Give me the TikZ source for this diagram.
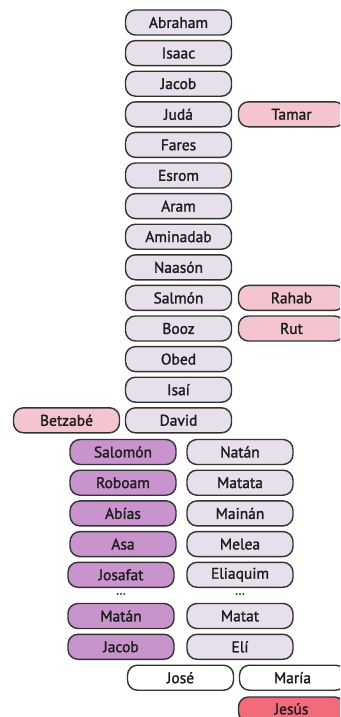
\documentclass[tikz,border=0pt]{standalone}
\usepackage{fontspec}
\setmainfont{PT Sans}[FakeBold=1.6]
\definecolor{lav}{HTML}{E7DFEC}
\definecolor{pinkf}{HTML}{F5C5CF}
\definecolor{purp}{HTML}{C993CD}
\definecolor{redf}{HTML}{F26B7B}
\definecolor{edge}{HTML}{333333}
\definecolor{txt}{HTML}{1E1E1E}
\tikzset{
  pbox/.style={draw=edge, line width=1.4pt, rounded corners=10pt, minimum width=106pt, minimum height=25pt, inner sep=0pt, text=txt, font=\fontsize{15.5}{17}\selectfont},
  mainp/.style={pbox, fill=lav},
  wife/.style={pbox, fill=pinkf},
  king/.style={pbox, fill=purp},
  plain/.style={pbox, fill=white},
  jesus/.style={pbox, fill=redf},
  dotsn/.style={text=txt, font=\fontsize{12}{14}\selectfont, inner sep=0pt}
}
\begin{document}
\begin{tikzpicture}[x=1pt,y=-1pt]
\useasboundingbox (0,0) rectangle (340,717);
\clip (0,0) rectangle (340,717);
\node[mainp] (abraham) at (178.5,22.5) {Abraham};
\node[mainp] (isaac) at (178.5,53.1) {Isaac};
\node[mainp] (jacob1) at (178.5,83.7) {Jacob};
\node[mainp] (juda) at (178.5,114.3) {Judá};
\node[mainp] (fares) at (178.5,144.9) {Fares};
\node[mainp] (esrom) at (178.5,175.5) {Esrom};
\node[mainp] (aram) at (178.5,206.1) {Aram};
\node[mainp] (aminadab) at (178.5,236.7) {Aminadab};
\node[mainp] (naason) at (178.5,267.3) {Naasón};
\node[mainp] (salmon) at (178.5,297.9) {Salmón};
\node[mainp] (booz) at (178.5,328.5) {Booz};
\node[mainp] (obed) at (178.5,359.1) {Obed};
\node[mainp] (isai) at (178.5,389.7) {Isaí};
\node[mainp] (david) at (178.5,420.3) {David};
\node[wife] (tamar) at (291.5,114.3) {Tamar};
\node[wife] (rahab) at (291.5,297.9) {Rahab};
\node[wife] (rut) at (291.5,328.5) {Rut};
\node[wife] (betzabe) at (66.5,420.3) {Betzabé};
\node[king] (salomon) at (123,452) {Salomón};
\node[king] (roboam) at (123,482.7) {Roboam};
\node[king] (abias) at (123,513.4) {Abías};
\node[king] (asa) at (123,544.1) {Asa};
\node[king] (josafat) at (121,574.8) {Josafat};
\node[dotsn] (dots1) at (121,594) {...};
\node[king] (matan) at (121,616) {Matán};
\node[king] (jacob2) at (121,646.8) {Jacob};
\node[mainp] (natan) at (240,452) {Natán};
\node[mainp] (matata) at (240,482.7) {Matata};
\node[mainp] (mainan) at (240,513.4) {Mainán};
\node[mainp] (melea) at (240,544.1) {Melea};
\node[mainp] (eliaquim) at (240,574.8) {Eliaquim};
\node[dotsn] (dots2) at (240,594) {...};
\node[mainp] (matat) at (240,616) {Matat};
\node[mainp] (eli) at (240,646.8) {Elí};
\node[plain] (jose) at (180.5,677.7) {José};
\node[plain] (maria) at (292.5,677.7) {María};
\node[jesus] (jesus) at (291.5,709.5) {\raisebox{1.5pt}{Jesús}};
\end{tikzpicture}
\end{document}
